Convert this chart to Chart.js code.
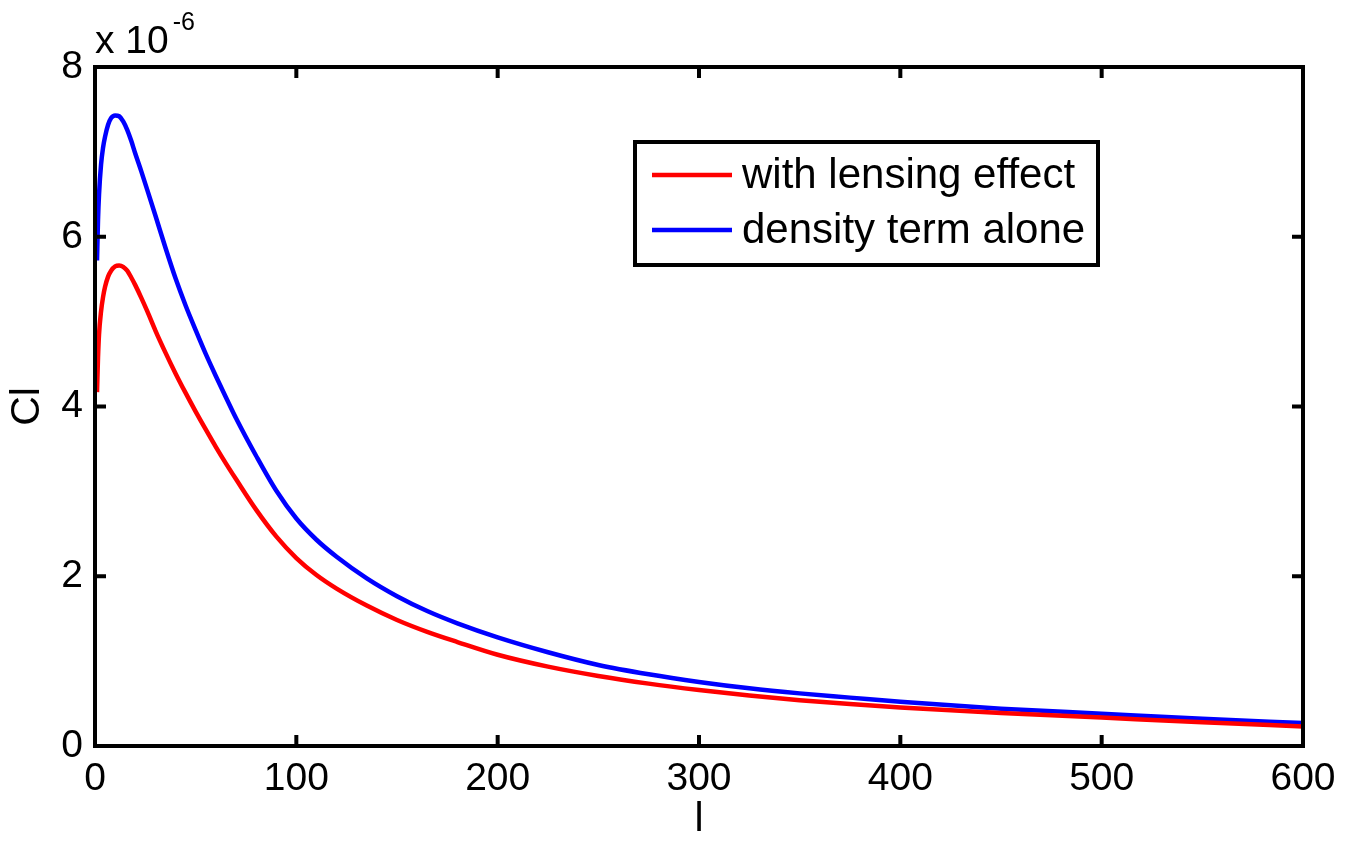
<!DOCTYPE html>
<html><head><meta charset="utf-8">
<script src="https://cdn.jsdelivr.net/npm/chart.js@4/dist/chart.umd.min.js"></script>
<style>html,body{margin:0;padding:0;background:#fff;overflow:hidden}#wrap{width:1354px;height:844px}</style>
</head><body><div id="wrap"><canvas id="c" width="1354" height="844"></canvas></div>
<script>
// multipole l and Cl (in units of 1e-6)
const ellLensing = [1,1.5,2,3,4,5,6.5,8,10,12,14,16,18,20,23,26,30,35,40,45,50,55,60,65,70,80,90,100,110,120,135,150,165,180,200,225,250,275,300,325,350,375,400,450,500,550,600];
const clLensing  = [4.17,4.58,4.85,5.12,5.29,5.41,5.53,5.60,5.65,5.66,5.645,5.60,5.52,5.43,5.28,5.12,4.895,4.635,4.39,4.16,3.94,3.73,3.525,3.33,3.145,2.785,2.47,2.215,2.015,1.855,1.655,1.485,1.345,1.225,1.075,0.935,0.825,0.735,0.66,0.595,0.54,0.495,0.455,0.39,0.335,0.28,0.23];
const ellDensity = [1,1.5,2,3,4,5,6.5,8,10,12,14,16,18,20,23,26,30,35,40,45,50,55,60,65,70,80,90,100,110,120,135,150,165,180,200,225,250,275,300,325,350,375,400,450,500,550,600];
const clDensity  = [5.72,6.20,6.50,6.85,7.05,7.18,7.32,7.40,7.43,7.42,7.36,7.26,7.13,6.98,6.77,6.55,6.25,5.87,5.51,5.19,4.90,4.62,4.36,4.11,3.865,3.42,3.01,2.68,2.43,2.23,1.975,1.765,1.59,1.445,1.28,1.105,0.955,0.845,0.755,0.68,0.62,0.57,0.52,0.44,0.38,0.32,0.27];
const xTicks = [0,100,200,300,400,500,600];
const yTicks = [0,2,4,6,8];
const seriesLabels = ['with lensing effect','density term alone'];
const seriesColors = ['#ff0000','#0000ff'];
const exponentBase = 'x 10';
const exponentPower = '-6';
const xTitle = 'l';
const yTitle = 'Cl';

const FONT = '"Liberation Sans", Arial, sans-serif';

function toPts(xs, ys){ return xs.map((x,i)=>({x:x, y:ys[i]})); }

const matlabPlugin = {
  id: 'matlab',
  afterDatasetsDraw(chart){
    const ctx = chart.ctx, a = chart.chartArea;
    const xs = chart.scales.x, ys = chart.scales.y;
    ctx.save();
    ctx.strokeStyle = '#000';
    ctx.lineWidth = 4;
    ctx.lineCap = 'butt';
    ctx.lineJoin = 'miter';
    ctx.strokeRect(a.left, a.top, a.right - a.left, a.bottom - a.top);
    const tl = 11;
    ctx.beginPath();
    xs.ticks.forEach(t=>{
      const p = xs.getPixelForValue(t.value);
      ctx.moveTo(p, a.bottom); ctx.lineTo(p, a.bottom - tl);
      ctx.moveTo(p, a.top); ctx.lineTo(p, a.top + tl);
    });
    ys.ticks.forEach(t=>{
      const p = ys.getPixelForValue(t.value);
      ctx.moveTo(a.left, p); ctx.lineTo(a.left + tl, p);
      ctx.moveTo(a.right, p); ctx.lineTo(a.right - tl, p);
    });
    ctx.stroke();
    // exponent label
    ctx.fillStyle = '#000';
    ctx.textAlign = 'left';
    ctx.textBaseline = 'alphabetic';
    ctx.font = '39px ' + FONT;
    ctx.fillText(exponentBase, a.left, a.top - 14);
    const w = ctx.measureText(exponentBase).width;
    ctx.font = '25px ' + FONT;
    ctx.fillText(exponentPower, a.left + w + 4, a.top - 37);
    // legend
    const bx = 635, by = 142, bw = 463, bh = 123;
    ctx.fillStyle = '#fff';
    ctx.fillRect(bx, by, bw, bh);
    ctx.strokeStyle = '#000';
    ctx.lineWidth = 4;
    ctx.strokeRect(bx, by, bw, bh);
    ctx.font = '42px ' + FONT;
    ctx.textBaseline = 'middle';
    chart.data.datasets.forEach((ds, i)=>{
      const yy = by + 33 + i * 55;
      ctx.strokeStyle = ds.borderColor;
      ctx.lineWidth = 4.5;
      ctx.beginPath(); ctx.moveTo(bx + 17, yy); ctx.lineTo(bx + 97, yy); ctx.stroke();
      ctx.fillStyle = '#000';
      ctx.fillText(ds.label, bx + 107, yy + 1);
    });
    ctx.restore();
  }
};

new Chart(document.getElementById('c'), {
  type: 'scatter',
  data: {
    datasets: [
      {label: seriesLabels[0], data: toPts(ellLensing, clLensing), borderColor: seriesColors[0], backgroundColor: seriesColors[0], borderWidth: 4.5, showLine: true, pointRadius: 0, cubicInterpolationMode: 'monotone'},
      {label: seriesLabels[1], data: toPts(ellDensity, clDensity), borderColor: seriesColors[1], backgroundColor: seriesColors[1], borderWidth: 4.5, showLine: true, pointRadius: 0, cubicInterpolationMode: 'monotone'}
    ]
  },
  options: {
    responsive: false,
    devicePixelRatio: 1,
    animation: false,
    events: [],
    layout: {padding: {left: 0, top: 67, right: 51, bottom: 0}},
    plugins: {legend: {display: false}, tooltip: {enabled: false}},
    scales: {
      x: {
        type: 'linear', min: 0, max: 600,
        afterBuildTicks: s => { s.ticks = xTicks.map(v => ({value: v})); },
        afterFit: s => { s.height = 98; },
        grid: {display: false, drawTicks: false, tickLength: 0}, border: {display: false},
        ticks: {color: '#000', font: {family: FONT, size: 39}, padding: 10, autoSkip: false, maxRotation: 0},
        title: {display: true, text: xTitle, color: '#000', font: {family: FONT, size: 41}, padding: {top: 0, bottom: 0}}
      },
      y: {
        type: 'linear', min: 0, max: 8,
        afterBuildTicks: s => { s.ticks = yTicks.map(v => ({value: v})); },
        afterFit: s => { s.width = 95; },
        grid: {display: false, drawTicks: false, tickLength: 0}, border: {display: false},
        ticks: {color: '#000', font: {family: FONT, size: 39}, padding: 12, autoSkip: false},
        title: {display: true, text: yTitle, color: '#000', font: {family: FONT, size: 41}, padding: {top: 3, bottom: 0}}
      }
    }
  },
  plugins: [matlabPlugin]
});
</script></body></html>
